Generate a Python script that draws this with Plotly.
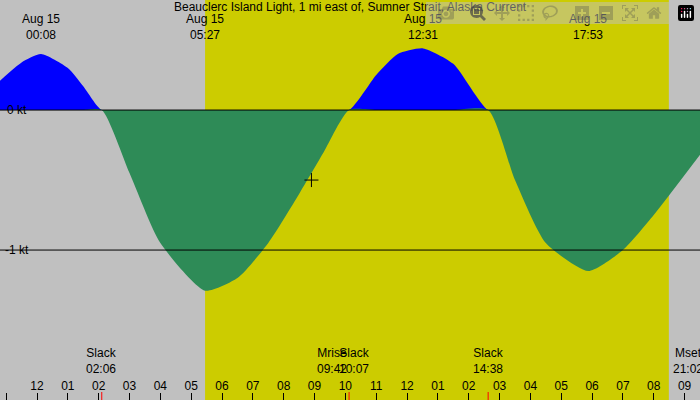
import plotly.graph_objects as go

hours = [-1.2, -0.5, 0.13, 1.0, 1.5, 2.1, 3.0, 4.0, 5.45, 6.5, 7.5, 8.5, 9.3, 10.12,
         11.0, 11.7, 12.52, 13.5, 14.63, 15.5, 16.5, 17.88, 19.0, 20.0, 21.5]
speed = [0.21, 0.34, 0.40, 0.30, 0.17, 0.0, -0.45, -0.95, -1.29, -1.2, -0.95, -0.6, -0.3, 0.0,
         0.25, 0.40, 0.44, 0.33, 0.0, -0.5, -0.95, -1.15, -1.0, -0.75, -0.32]
extreme_h = [0.13, 5.45, 12.52, 17.88]
extreme_lbl = ["00:08", "05:27", "12:31", "17:53"]
event_h = [2.1, 9.7, 10.12, 14.63, 21.03]
event_name = ["Slack", "Mrise", "Slack", "Slack", "Mset"]
event_time = ["02:06", "09:42", "10:07", "14:38", "21:02"]
sunrise, sunset = 5.45, 20.49
tick_h = list(range(-1, 22))
tick_lbl = ["%02d" % (((h - 1) % 12) + 1) for h in tick_h]

X0, X1 = -1.2, 21.5
fig = go.Figure()
fig.add_trace(go.Scatter(x=hours, y=[max(v, 0) for v in speed], fill="tozeroy", mode="lines",
                         line=dict(width=0, shape="spline", smoothing=0.6), fillcolor="#0000ff"))
fig.add_trace(go.Scatter(x=hours, y=[min(v, 0) for v in speed], fill="tozeroy", mode="lines",
                         line=dict(width=0, shape="spline", smoothing=0.6), fillcolor="#2e8b57"))
fig.add_trace(go.Scatter(x=[8.9], y=[-0.5], mode="markers",
                         marker=dict(symbol="cross-thin", size=10, line=dict(width=1, color="black"))))

shapes = [dict(type="rect", xref="x", yref="paper", x0=sunrise, x1=sunset, y0=0, y1=1,
               fillcolor="#cccc00", line_width=0, layer="below")]
for yv in [0, -1]:
    shapes.append(dict(type="line", xref="paper", x0=0, x1=1, y0=yv, y1=yv, line=dict(color="black", width=1)))
for h, n in zip(event_h, event_name):
    if n == "Slack":
        shapes.append(dict(type="line", x0=h, x1=h, yref="paper", y0=0, y1=0.02, line=dict(color="red", width=1)))
fig.update_layout(shapes=shapes)

ann = [dict(x=0.5, y=1.005, xref="paper", yref="paper", text="Beauclerc Island Light, 1 mi east of, Sumner Strait, Alaska Current",
            showarrow=False, yanchor="top")]
ann.append(dict(x=X0, y=0, text="0 kt", showarrow=False, xanchor="left", yanchor="middle", xshift=5))
ann.append(dict(x=X0, y=-1, text="-1 kt", showarrow=False, xanchor="left", yanchor="middle", xshift=3))
for h, l in zip(extreme_h, extreme_lbl):
    ann.append(dict(x=h, y=0.975, yref="paper", text="Aug 15<br>" + l, showarrow=False, yanchor="top"))
for h, n, t in zip(event_h, event_name, event_time):
    xa = "center"
    xs = 0
    if n == "Mrise":
        xs = -4
    if n == "Slack" and h > 10 and h < 11:
        xs = 5
    if n == "Mset":
        xa = "left"; xs = -15
    ann.append(dict(x=h, y=0.055, yref="paper", text=n + "<br>" + t, showarrow=False, yanchor="bottom",
                    xanchor=xa, xshift=xs))
fig.update_layout(annotations=ann)

fig.update_layout(width=700, height=400, margin=dict(l=0, r=0, t=0, b=0), showlegend=False,
                  plot_bgcolor="#c0c0c0", paper_bgcolor="#c0c0c0",
                  font=dict(family="Liberation Sans", size=12, color="black"),
                  xaxis=dict(range=[X0, X1], tickvals=tick_h, ticktext=tick_lbl, ticks="inside",
                             ticklen=7, tickcolor="black", ticklabelposition="inside", showgrid=False,
                             tickfont=dict(color="black", size=12),
                             zeroline=False, showline=False),
                  yaxis=dict(range=[-2.071, 0.786], visible=False))
fig.write_html("out.html", post_script="document.body.style.margin='0';document.body.style.padding='0';")
